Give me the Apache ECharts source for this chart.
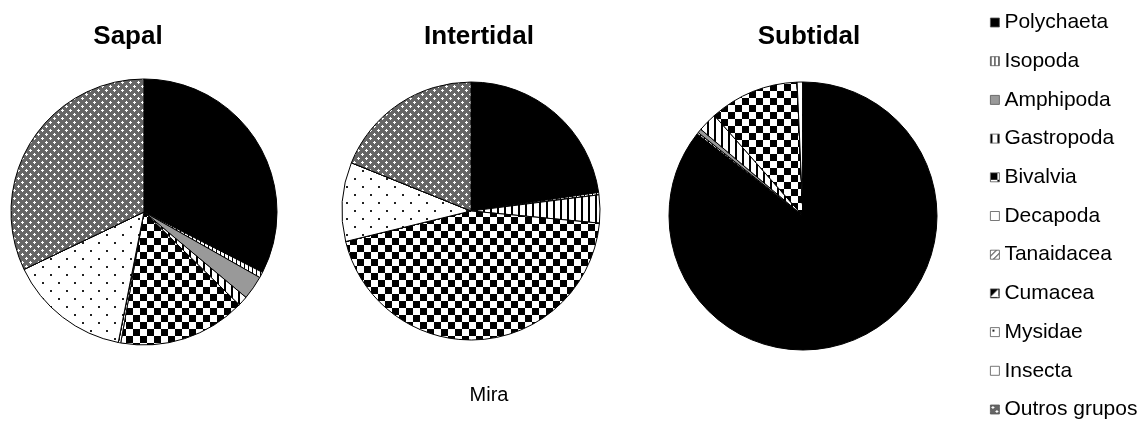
<!DOCTYPE html>
<html>
<head>
<meta charset="utf-8">
<script src="https://cdn.jsdelivr.net/npm/echarts@6/dist/echarts.min.js"></script>
<style>
  html, body { margin: 0; padding: 0; background: #fff; }
  #chart { width: 1141px; height: 425px; }
</style>
</head>
<body>
<div id="chart"></div>
<script>
// Macrofauna groups (share of individuals, %) at Mira by zone
const groups = ['Polychaeta', 'Isopoda', 'Amphipoda', 'Gastropoda', 'Bivalvia', 'Decapoda',
                'Tanaidacea', 'Cumacea', 'Mysidae', 'Insecta', 'Outros grupos'];
const sapal      = [32.5, 0.7, 2.9, 1.2, 15.5, 0.3, 0, 0, 14.8, 0, 32.1];
const intertidal = [22.7, 0.3, 0,   3.5, 44.7, 0,   0, 0, 9.9,  0, 18.9];
const subtidal   = [85.5, 0.2, 0.5, 2.3, 10.8, 0,   0, 0, 0.7,  0, 0];
const zoneNames  = ['Sapal', 'Intertidal', 'Subtidal'];
const siteName   = 'Mira';

// Monochrome fill patterns drawn on small tiles
function tile(w, h, draw) {
  const c = document.createElement('canvas');
  c.width = w; c.height = h;
  const g = c.getContext('2d');
  g.fillStyle = '#fff';
  g.fillRect(0, 0, w, h);
  draw(g);
  return { image: c, repeat: 'repeat' };
}
function plus(g, cx, cy) {
  g.fillRect(cx - 1, cy, 3, 1);
  g.fillRect(cx, cy - 1, 1, 3);
}
const fills = {
  Polychaeta: '#000000',
  Isopoda: tile(4, 4, g => { g.fillStyle = '#000'; g.fillRect(0, 0, 1, 4); }),
  Amphipoda: '#999999',
  Gastropoda: tile(7, 7, g => { g.fillStyle = '#000'; g.fillRect(0, 0, 2, 7); }),
  Bivalvia: tile(14, 14, g => { g.fillStyle = '#000'; g.fillRect(0, 0, 7, 7); g.fillRect(7, 7, 7, 7); }),
  Decapoda: '#ffffff',
  Tanaidacea: tile(6, 6, g => {
    g.fillStyle = '#000';
    for (let i = 0; i < 6; i++) g.fillRect(i, 5 - i, 1, 1);
  }),
  Cumacea: tile(8, 8, g => {
    g.fillStyle = '#000';
    g.beginPath(); g.moveTo(0, 0); g.lineTo(8, 0); g.lineTo(0, 8); g.closePath(); g.fill();
  }),
  Mysidae: tile(16, 16, g => {
    g.fillStyle = '#222';
    g.fillRect(2, 2, 2, 2);
    g.fillRect(10, 10, 2, 2);
  }),
  Insecta: '#ffffff',
  'Outros grupos': tile(8, 8, g => {
    g.fillStyle = '#666666';
    g.fillRect(0, 0, 8, 8);
    g.fillStyle = '#ffffff';
    plus(g, 2, 2);
    plus(g, 6, 6);
  })
};

function pieSeries(name, values, center, radius) {
  return {
    type: 'pie',
    name: name,
    center: center,
    radius: radius,
    startAngle: 90,
    clockwise: true,
    label: { show: false },
    labelLine: { show: false },
    emphasis: { disabled: true },
    itemStyle: { borderColor: '#000', borderWidth: 1 },
    data: groups.map((g, i) => ({ name: g, value: values[i], itemStyle: { color: fills[g] } }))
  };
}

const chart = echarts.init(document.getElementById('chart'), null, { renderer: 'canvas' });
chart.setOption({
  animation: false,
  backgroundColor: '#ffffff',
  legend: {
    orient: 'vertical',
    left: 990,
    top: 12,
    height: 420,
    padding: 0,
    icon: 'rect',
    itemWidth: 9,
    itemHeight: 9,
    itemGap: 17.7,
    selectedMode: false,
    data: groups,
    itemStyle: { borderColor: '#555', borderWidth: 0.8 },
    textStyle: { fontFamily: 'Liberation Sans, Arial, sans-serif', fontSize: 21, lineHeight: 21, color: '#000', padding: [0, 0, 0, 0] }
  },
  graphic: [
    { type: 'text', x: 128, y: 37, style: { text: zoneNames[0], font: 'bold 26px "Liberation Sans", Arial, sans-serif', fill: '#000', align: 'center', verticalAlign: 'middle' } },
    { type: 'text', x: 479, y: 37, style: { text: zoneNames[1], font: 'bold 26px "Liberation Sans", Arial, sans-serif', fill: '#000', align: 'center', verticalAlign: 'middle' } },
    { type: 'text', x: 809, y: 37, style: { text: zoneNames[2], font: 'bold 26px "Liberation Sans", Arial, sans-serif', fill: '#000', align: 'center', verticalAlign: 'middle' } },
    { type: 'text', x: 489, y: 395, style: { text: siteName, font: '20px "Liberation Sans", Arial, sans-serif', fill: '#000', align: 'center', verticalAlign: 'middle' } }
  ],
  series: [
    pieSeries(zoneNames[0], sapal, [144, 212], 133),
    pieSeries(zoneNames[1], intertidal, [471, 211], 129),
    pieSeries(zoneNames[2], subtidal, [803, 216], 134)
  ]
});
</script>
</body>
</html>
